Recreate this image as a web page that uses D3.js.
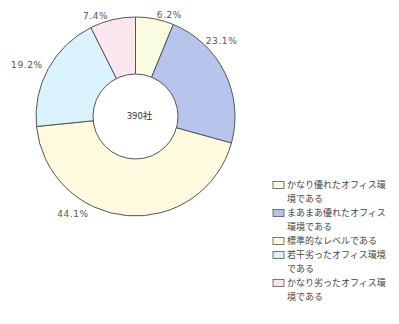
<!DOCTYPE html>
<html><head><meta charset="utf-8">
<script src="https://cdn.jsdelivr.net/npm/d3@7"></script>
<style>body{margin:0;background:#fff}svg{display:block}</style>
</head><body>
<svg id="c" width="399" height="324"></svg>
<script>
const categories = ["かなり優れたオフィス環境である","まあまあ優れたオフィス環境である","標準的なレベルである","若干劣ったオフィス環境である","かなり劣ったオフィス環境である"];
const legendLines = [["かなり優れたオフィス環","境である"],["まあまあ優れたオフィス","環境である"],["標準的なレベルである"],["若干劣ったオフィス環境","である"],["かなり劣ったオフィス環","境である"]];
const values = [6.2, 23.1, 44.1, 19.2, 7.4];
const labels = ["6.2%","23.1%","44.1%","19.2%","7.4%"];
const colors = ["#fbfde2","#b7c5ec","#fffadf","#d9f2fc","#fde7ef"];
const centerText = "390社";

const svg = d3.select("#c");
const font = "'Noto Sans CJK JP', sans-serif";
const cx = 135.5, cy = 116.5, R = 99.5, r0 = 42.5;
const pie = d3.pie().sort(null).value(d => d)(values);
const arc = d3.arc().innerRadius(0).outerRadius(R);
const g = svg.append("g").attr("transform", `translate(${cx},${cy})`);
g.selectAll("path.s").data(pie).join("path").attr("class","s")
  .attr("d", arc).attr("fill", (d,i) => colors[i])
  .attr("stroke", "#555").attr("stroke-width", 1);
g.append("circle").attr("r", r0).attr("fill", "#fff").attr("stroke", "#555").attr("stroke-width", 1);
g.append("text").attr("x", 4).attr("y", -1).attr("dy", "0.35em").attr("text-anchor", "middle")
  .attr("font-family", font).attr("font-size", 9.5).attr("fill", "#333").text(centerText);

const labelArc = d3.arc().innerRadius(R + 13).outerRadius(R + 13);
const labelOffsets = [[12,9],[-15,-26],[-53,-15],[-10,3],[-14,9]];
g.selectAll("text.l").data(pie).join("text").attr("class","l")
  .attr("transform", (d,i) => { const p = labelArc.centroid(d); return `translate(${p[0]+labelOffsets[i][0]},${p[1]+labelOffsets[i][1]})`; })
  .attr("text-anchor", "middle").attr("dy", "0.35em")
  .attr("font-family", "'DejaVu Sans', sans-serif").attr("font-size", 9).attr("letter-spacing", 0.6).attr("fill", "#555")
  .text((d,i) => labels[i]);

const lg = svg.append("g").attr("transform", "translate(273,185)");
let yy = 0;
categories.forEach((c, i) => {
  lg.append("rect").attr("x", 0).attr("y", yy - 3.5).attr("width", 11).attr("height", 7)
    .attr("fill", colors[i]).attr("stroke", "#555").attr("stroke-width", 0.8);
  legendLines[i].forEach((ln, j) => {
    lg.append("text").attr("x", 14).attr("y", yy + j * 13.5).attr("dy", "0.35em")
      .attr("font-family", font).attr("font-size", 9).attr("fill", "#444").text(ln);
  });
  yy += legendLines[i].length * 13.5 + (legendLines[i].length === 1 ? 0.5 : 1);
});
</script>
</body></html>
